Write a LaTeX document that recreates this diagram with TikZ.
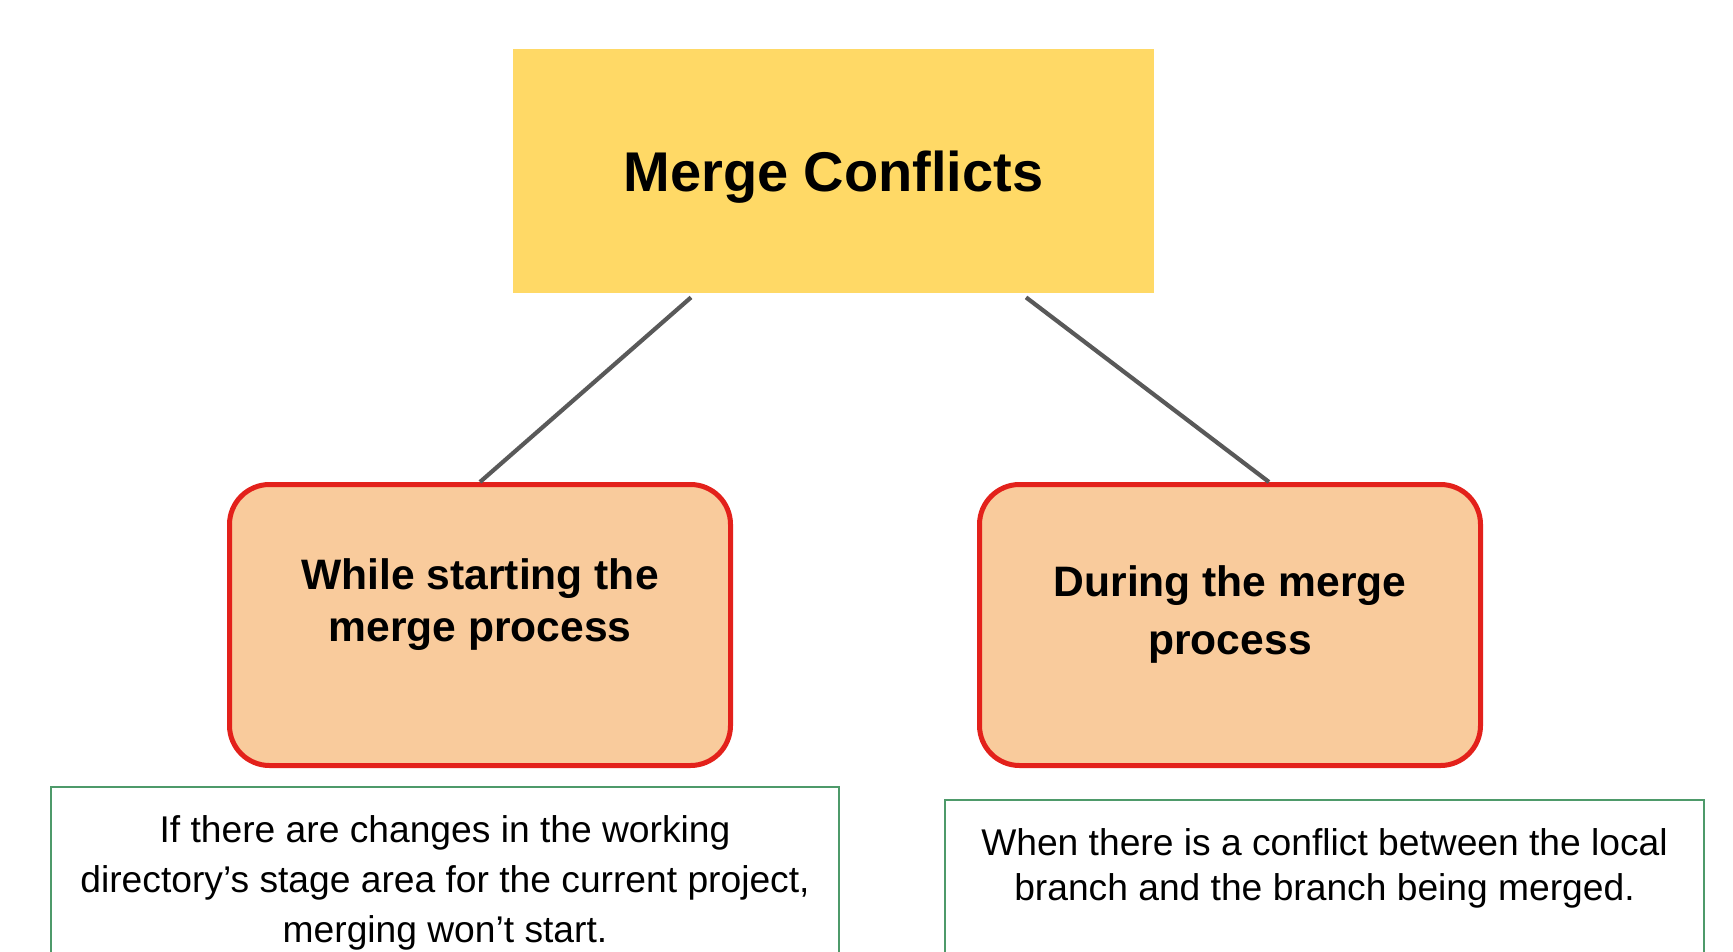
\documentclass[tikz,border=0pt]{standalone}
\usepackage{fontspec}
\setmainfont{Liberation Sans}
\usepackage{tikz}
\usetikzlibrary{calc}

\definecolor{titleyellow}{HTML}{FFD966}
\definecolor{caseorange}{HTML}{F9CB9C}
\definecolor{casered}{HTML}{E3211B}
\definecolor{linkgrey}{HTML}{595959}
\definecolor{notegreen}{HTML}{4E9A6A}

\begin{document}
\begin{tikzpicture}[x=0.5pt, y=-0.5pt,
    title/.style={fill=titleyellow, minimum width=320.5pt, minimum height=122pt, text depth=0pt,
      font=\fontsize{28}{34}\selectfont\bfseries},
    case/.style={draw=casered, line width=2.5pt, fill=caseorange, rounded corners=20pt,
      minimum width=250.5pt, minimum height=140.5pt},
    casetext/.style={inner sep=0pt, align=center, font=\fontsize{21.3}{26}\selectfont\bfseries},
    note/.style={draw=notegreen, line width=1pt, anchor=north, minimum height=200pt},
    notetext/.style={inner sep=0pt, anchor=north, align=center, font=\fontsize{18.6}{25}\selectfont},
    link/.style={draw=linkgrey, line width=2.1pt}]

  \clip (0,0) rectangle (1733,952);
  \fill[white] (0,0) rectangle (1733,952);

  \node [title] (merge) at (833.5,171) {Merge Conflicts};

  \node [case] (start) at (480,625) {};
  \node [case] (during) at (1230,625) {};
  \node [casetext] (startlbl) at (480,604.5) {While starting the\\merge process};
  \node [casetext, font=\fontsize{21.3}{29}\selectfont\bfseries] (duringlbl) at (1230,614.5)
    {During the merge\\process};

  % the two cases hang from the title
  \path [link] ($(merge.south west)!0.278!(merge.south east)+(0,4)$) -- (start.north);
  \path [link] ($(merge.south west)!0.80!(merge.south east)+(0,4)$)
    -- ($(during.north west)!0.577!(during.north east)$);

  \node [note, minimum width=394pt] (startnote) at (445,786) {};
  \node [note, minimum width=379.5pt] (duringnote) at (1324.5,799) {};
  \node [notetext] (startnotelbl) at ($(startnote.north)+(0,29.5)$)
    {If there are changes in the working\\directory’s stage area for the current project,\\merging won’t start.};
  \node [notetext, font=\fontsize{18.6}{22.5}\selectfont] (duringnotelbl) at ($(duringnote.north)+(0,29.5)$)
    {When there is a conflict between the local\\branch and the branch being merged.};

\end{tikzpicture}
\end{document}
